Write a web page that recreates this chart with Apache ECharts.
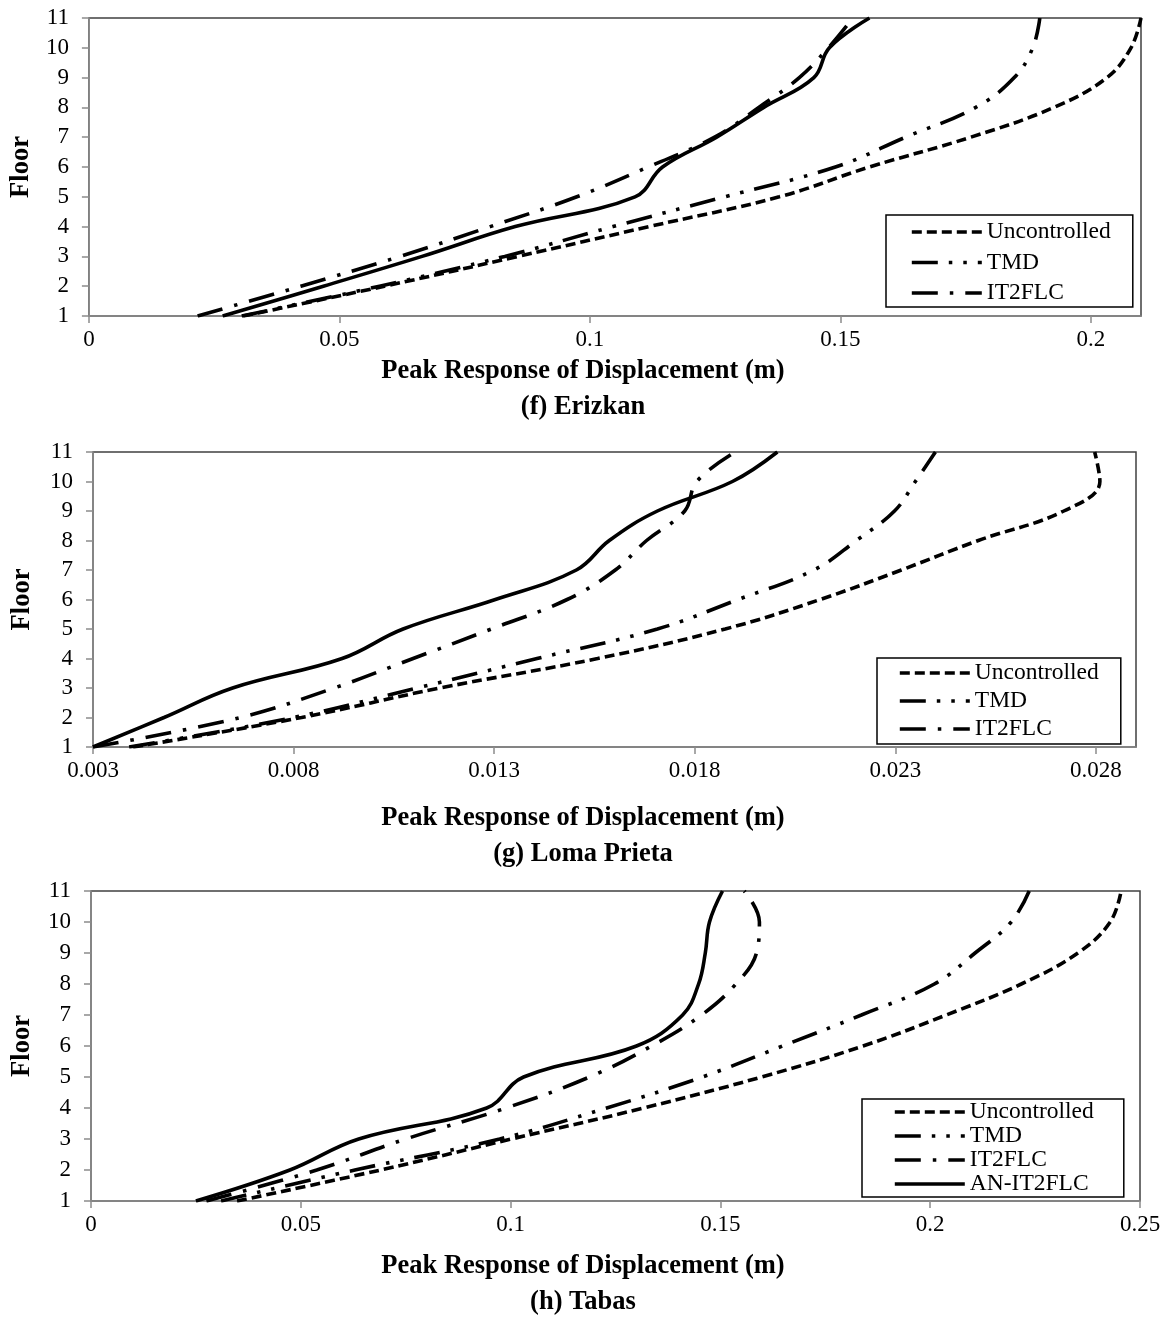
<!DOCTYPE html>
<html><head><meta charset="utf-8">
<script src="https://cdn.jsdelivr.net/npm/echarts@6/dist/echarts.min.js"></script>
<style>html,body{margin:0;padding:0;background:#fff}#c{width:1166px;height:1318px}</style>
</head><body><div id="c"></div>
<script>
const floors = [1,2,3,4,5,6,7,8,9,10,11];
const floorTicks = [1,2,3,4,5,6,7,8,9,10,11];

// (f) Erizkan
const erzUncontrolled = [0.0308, 0.059, 0.0857, 0.1118, 0.1378, 0.1558, 0.176, 0.1926, 0.2032, 0.208, 0.21];
const erzTMD          = [0.0305, 0.058, 0.083, 0.1046, 0.1269, 0.149, 0.163, 0.177, 0.1847, 0.1884, 0.1898];
const erzIT2FLC       = [0.0217, 0.0423, 0.0621, 0.0801, 0.0974, 0.1116, 0.1249, 0.1337, 0.1418, 0.1476, 0.1525];
const erzANIT2FLC     = [0.0267, 0.0468, 0.0665, 0.0851, 0.109, 0.1145, 0.1253, 0.1347, 0.1447, 0.1478, 0.1558];
const erzTicks = [0, 0.05, 0.1, 0.15, 0.2];

// (g) Loma Prieta
const lomaUncontrolled = [0.0040, 0.0082, 0.01165, 0.01558, 0.01876, 0.02113, 0.02315, 0.02507, 0.0272, 0.0281, 0.02797];
const lomaTMD          = [0.0039, 0.0080, 0.01108, 0.01407, 0.01707, 0.01908, 0.02097, 0.02203, 0.02298, 0.0235, 0.0240];
const lomaIT2FLC       = [0.0030, 0.00667, 0.00901, 0.01098, 0.01293, 0.01482, 0.01602, 0.0168, 0.01775, 0.01805, 0.01901];
const lomaANIT2FLC     = [0.0030, 0.00477, 0.00648, 0.00921, 0.01073, 0.01303, 0.01505, 0.01587, 0.01707, 0.01894, 0.02006];
const lomaTicks = [0.003, 0.008, 0.013, 0.018, 0.023, 0.028];

// (h) Tabas
const tabUncontrolled = [0.0348, 0.069, 0.1002, 0.1317, 0.1598, 0.184, 0.2038, 0.2217, 0.2352, 0.2429, 0.2455];
const tabTMD          = [0.031, 0.0629, 0.0974, 0.1229, 0.1457, 0.1648, 0.1836, 0.201, 0.2107, 0.2193, 0.2236];
const tabIT2FLC       = [0.0275, 0.0538, 0.075, 0.0989, 0.1188, 0.1336, 0.1455, 0.1537, 0.1586, 0.1593, 0.1557];
const tabANIT2FLC     = [0.025, 0.0474, 0.0638, 0.0943, 0.1031, 0.130, 0.141, 0.1448, 0.1464, 0.1474, 0.1505];
const tabTicks = [0, 0.05, 0.1, 0.15, 0.2, 0.25];

const FONT = 'Liberation Serif';
const LW = 3.6;
const styles = {
  'Uncontrolled': {color:'#000', width:LW, type:[10,5], cap:'butt'},
  'TMD':          {color:'#000', width:LW, type:[26,11,3.5,11,3.5,11], cap:'butt'},
  'IT2FLC':       {color:'#000', width:LW, type:[26,12,3.5,12], cap:'butt'},
  'AN-IT2FLC':    {color:'#000', width:LW, type:'solid', cap:'butt'}
};

const panels = [
  {grid:{left:88, top:18, width:1053, height:298}, min:0, max:0.21, ticks:erzTicks,
   data:{'Uncontrolled':erzUncontrolled,'TMD':erzTMD,'IT2FLC':erzIT2FLC,'AN-IT2FLC':erzANIT2FLC},
   nameGap:52, legend:{left:886, top:215, gap:6.5, pad:[5,22,2,24], names:['Uncontrolled','TMD','IT2FLC']},
   title:{top:358, sub:'(f) Erizkan'}},
  {grid:{left:93, top:452, width:1043, height:295}, min:0.003, max:0.029, ticks:lomaTicks,
   data:{'Uncontrolled':lomaUncontrolled,'TMD':lomaTMD,'IT2FLC':lomaIT2FLC,'AN-IT2FLC':lomaANIT2FLC},
   nameGap:57, legend:{left:877, top:658, gap:4, pad:[3,22,3,21], names:['Uncontrolled','TMD','IT2FLC']},
   title:{top:805, sub:'(g) Loma Prieta'}},
  {grid:{left:91, top:891, width:1049, height:310}, min:0, max:0.25, ticks:tabTicks,
   data:{'Uncontrolled':tabUncontrolled,'TMD':tabTMD,'IT2FLC':tabIT2FLC,'AN-IT2FLC':tabANIT2FLC},
   nameGap:55, legend:{left:862, top:1099, gap:0, pad:[1,30,1,31], names:['Uncontrolled','TMD','IT2FLC','AN-IT2FLC']},
   title:{top:1253, sub:'(h) Tabas'}}
];

const fmt = v => String(Math.round(v*100000)/100000);

const option = {
  backgroundColor:'#fff',
  animation:false,
  grid: panels.map(p => Object.assign({show:true, borderColor:'#404040', borderWidth:1.5, backgroundColor:'transparent'}, p.grid)),
  xAxis: panels.map((p,i) => ({
    type:'value', gridIndex:i, min:p.min, max:p.max,
    axisLine:{show:true, lineStyle:{color:'#8c8c8c', width:1.5}},
    axisTick:{show:true, length:7, inside:false, customValues:p.ticks, lineStyle:{color:'#8c8c8c', width:1.5}},
    axisLabel:{show:true, customValues:p.ticks, margin:12, formatter:fmt, fontFamily:FONT, fontSize:23, color:'#000'},
    splitLine:{show:false}
  })),
  yAxis: panels.map((p,i) => ({
    type:'value', gridIndex:i, min:1, max:11, interval:1,
    name:'Floor', nameLocation:'middle', nameGap:p.nameGap, nameRotate:90,
    nameTextStyle:{fontFamily:FONT, fontSize:26.5, fontWeight:'bold', color:'#000'},
    axisLine:{show:true, lineStyle:{color:'#8c8c8c', width:1.5}},
    axisTick:{show:true, length:7, inside:false, lineStyle:{color:'#8c8c8c', width:1.5}},
    axisLabel:{show:true, margin:20, fontFamily:FONT, fontSize:23, color:'#000', customValues:floorTicks},
    splitLine:{show:false}
  })),
  title: panels.map(p => ({
    text:'Peak Response of Displacement (m)', subtext:p.title.sub,
    left:'center', top:p.title.top, padding:0, itemGap:9,
    textStyle:{fontFamily:FONT, fontSize:26.5, fontWeight:'bold', color:'#000'},
    subtextStyle:{fontFamily:FONT, fontSize:26.5, fontWeight:'bold', color:'#000'}
  })),
  legend: panels.map(p => ({
    orient:'vertical', left:p.legend.left, top:p.legend.top,
    itemWidth:70, itemHeight:14, itemGap:p.legend.gap, padding:p.legend.pad,
    borderColor:'#000', borderWidth:1.5, borderRadius:0, backgroundColor:'#fff',
    selectedMode:false, itemStyle:{opacity:0},
    textStyle:{fontFamily:FONT, fontSize:23.5, color:'#000'},
    data:p.legend.names.map(n => ({name:n, lineStyle:{color:'#000', width:LW, type:styles[n].type, cap:'butt'}, itemStyle:{opacity:0}}))
  })),
  series: []
};

panels.forEach((p,i) => {
  ['Uncontrolled','TMD','IT2FLC','AN-IT2FLC'].forEach(n => {
    option.series.push({
      type:'line', name:n, xAxisIndex:i, yAxisIndex:i,
      data: floors.map((f,k) => [p.data[n][k], f]),
      smooth:0.4, symbol:'none', silent:true,
      lineStyle: styles[n]
    });
  });
});

const chart = echarts.init(document.getElementById('c'), null, {renderer:'canvas'});
chart.setOption(option);
</script>
</body></html>
